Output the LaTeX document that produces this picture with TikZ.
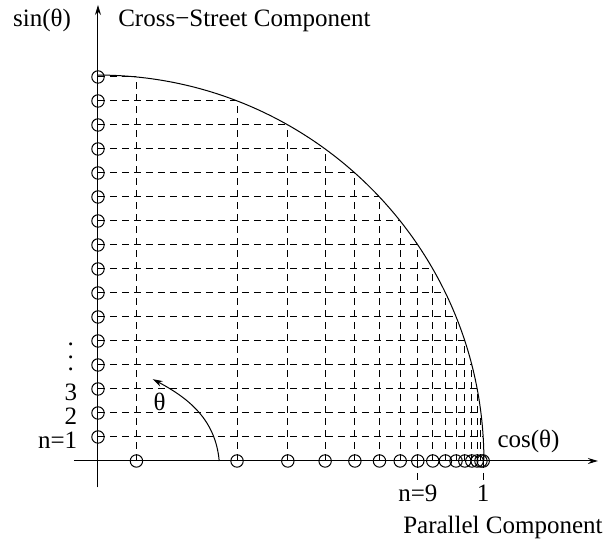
\documentclass[tikz,border=0pt]{standalone}
\usepackage{fontspec}
\setmainfont{Liberation Serif}
\usetikzlibrary{arrows.meta}

\begin{document}
\begin{tikzpicture}[
  x=12pt, y=12pt,
  axisline/.style={-{Stealth[length=5pt,width=3pt]}, line width=0.5pt},
  guide/.style={dash pattern=on 3.5pt off 2.5pt, line width=0.5pt},
  ring/.style={draw, circle, inner sep=0pt, minimum size=6.2pt, line width=0.5pt},
  lbl/.style={inner sep=0pt, font=\fontsize{12.5}{15}\selectfont}
]
  \def\R{16.08}
  \useasboundingbox (-4.083,-3.625) rectangle (21.125,19.208);
  \coordinate (xlo) at (-1,0);
  \coordinate (xhi) at (20.83,0);
  \coordinate (ylo) at (0,-1.1);
  \coordinate (yhi) at (0,19.0);
  \draw[axisline] (xlo) -- (xhi);
  \draw[axisline] (ylo) -- (yhi);
  \draw[line width=0.5pt] (0,\R) arc[start angle=90, end angle=0, radius=\R];

  \foreach \k in {1,...,16}{
    \pgfmathsetmacro{\c}{sqrt(\R*\R-\k*\k)}
    \coordinate (a\k) at (\c,\k);
    \node[ring] (v\k) at (0,\k) {};
    \node[ring] (h\k) at (\c,0) {};
    \draw[guide] (v\k.center) -- (a\k);
    \draw[guide] (h\k.center) -- (a\k);
  }

  \node[lbl, anchor=base west] (sin) at (-3.55,18.1) {sin(θ)};
  \node[lbl, anchor=base west] (cross) at (0.83,18.1) {Cross−Street Component};
  \node[lbl, anchor=base west] (cos) at (16.63,0.58) {cos(θ)};
  \node[lbl, anchor=base east] (par) at (21.04,-3.04) {Parallel Component};

  \node[lbl, anchor=base] (n9) at ([yshift=-20.4pt]h9.center) {n=9};
  \node[lbl, anchor=base] (one) at ([yshift=-20.4pt]h1.center) {1};
  \draw[guide] (h9.center) -- (n9);
  \draw[guide] (h1.center) -- (one);

  \node[lbl, anchor=base east] (n1) at (-0.85,0.53) {n=1};
  \node[lbl, anchor=base east] (n2) at (-0.85,1.53) {2};
  \node[lbl, anchor=base east] (n3) at (-0.85,2.54) {3};
  \node[lbl] (vd) at (-1.13,4.32) {\vbox{\baselineskip6.25pt\lineskiplimit0pt\hbox{.}\hbox{.}\hbox{.}}};

  \coordinate (t0) at (5.05,0);
  \coordinate (t1) at (2.28,3.41);
  \draw[-{Stealth[length=5pt,width=3pt]}, line width=0.5pt] (t0) to[out=95, in=-28] (t1);
  \node[lbl, anchor=base west] (theta) at (2.3,2.12) {θ};
\end{tikzpicture}
\end{document}
